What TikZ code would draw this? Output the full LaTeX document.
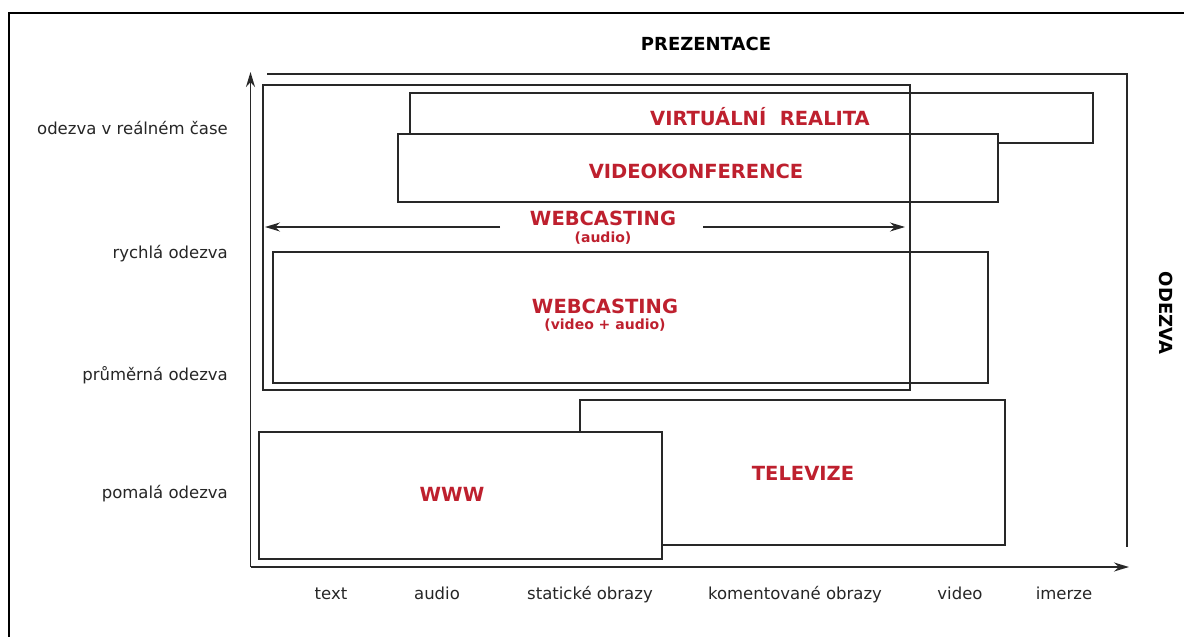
\documentclass[tikz,border=0pt]{standalone}
\usepackage{fontspec}
\setmainfont{DejaVu Sans}
\usetikzlibrary{arrows.meta}
\definecolor{labred}{RGB}{190,32,46}
\definecolor{linegray}{RGB}{40,40,40}
\tikzset{
  x=1pt, y=-1pt,
  box/.style={draw=linegray, line width=1.8pt, fill=white, rectangle, inner sep=0pt, anchor=north west},
  frame/.style={draw=linegray, line width=1.8pt},
  axislabel/.style={font=\fontsize{16.5}{19}\selectfont, text=black!85, inner sep=0pt, anchor=base},
  ylabel/.style={axislabel, anchor=base east},
  title/.style={font=\fontsize{18}{21}\selectfont\bfseries, text=black, inner sep=0pt},
  redbig/.style={font=\fontsize{19.5}{23}\selectfont\bfseries, text=labred, inner sep=0pt},
  redsmall/.style={font=\fontsize{14}{16}\selectfont\bfseries, text=labred, inner sep=0pt},
  axisarrow/.style={line width=1.8pt, draw=linegray, -{Stealth[length=15pt,width=9pt]}},
  thinarrow/.style={line width=1.2pt, draw=linegray, -{Stealth[length=15pt,width=9pt]}}
}
\begin{document}
\begin{tikzpicture}
\useasboundingbox (0,0) rectangle (1184,637);
\clip (0,0) rectangle (1184,637);
\fill[white] (0,0) rectangle (1184,637);

% outer page frame
\draw[line width=2pt, black] (8.5,650) -- (8.5,13) -- (1200,13);

% axes
\coordinate (origin) at (250.5,567);
\coordinate (ytip) at (250.5,72);
\coordinate (xtip) at (1129,567);
\draw[axisarrow] (origin) -- (ytip);
\draw[axisarrow] (origin) -- (xtip);

% presentation bracket
\coordinate (pa) at (267,74);
\coordinate (pb) at (1127,74);
\coordinate (pc) at (1127,547);
\draw[frame] (pa) -- (pb) -- (pc);
\node[title] (prez) at (706,44) {PREZENTACE};
\node[title, rotate=-90] (odezva) at (1166,313) {ODEZVA};

% response levels
\node[ylabel] (l1) at (228,134) {odezva v reálném čase};
\node[ylabel] (l2) at (228,258) {rychlá odezva};
\node[ylabel] (l3) at (228,380) {průměrná odezva};
\node[ylabel] (l4) at (228,498) {pomalá odezva};

% presentation forms
\node[axislabel] (x1) at (331,599) {text};
\node[axislabel] (x2) at (437,599) {audio};
\node[axislabel] (x3) at (590,599) {statické obrazy};
\node[axislabel] (x4) at (795,599) {komentované obrazy};
\node[axislabel] (x5) at (960,599) {video};
\node[axislabel] (x6) at (1064,599) {imerze};

% virtual reality and videoconference
\node[box, minimum width=683pt, minimum height=50pt] (vr) at (409,92) {};
\node[box, minimum width=600pt, minimum height=68pt] (vk) at (397,133) {};
\node[redbig] (vrt) at (760,117) {VIRTUÁLNÍ\ \ REALITA};
\node[redbig] (vkt) at (696,171) {VIDEOKONFERENCE};

% webcasting (video + audio)
\node[box, minimum width=715pt, minimum height=131pt] (wv) at (272,251) {};
\node[redbig] (wvt) at (605,306) {WEBCASTING};
\node[redsmall] (wvs) at (605,325) {(video + audio)};

% webcasting (audio) range
\node[box, fill=none, minimum width=647pt, minimum height=305pt] (wa) at (262,84) {};
\node[redbig] (wat) at (603,218) {WEBCASTING};
\node[redsmall] (was) at (603,238) {(audio)};
\coordinate (wal) at (500,227);
\coordinate (war) at (703,227);
\coordinate (waltip) at (265,227);
\coordinate (wartip) at (905,227);
\draw[thinarrow] (wal) -- (waltip);
\draw[thinarrow] (war) -- (wartip);

% television and www
\node[box, minimum width=425pt, minimum height=145pt] (tv) at (579,399) {};
\node[redbig] (tvt) at (803,473) {TELEVIZE};
\node[box, minimum width=403pt, minimum height=127pt] (www) at (258,431) {};
\node[redbig] (wwwt) at (452,494) {WWW};
\end{tikzpicture}
\end{document}
